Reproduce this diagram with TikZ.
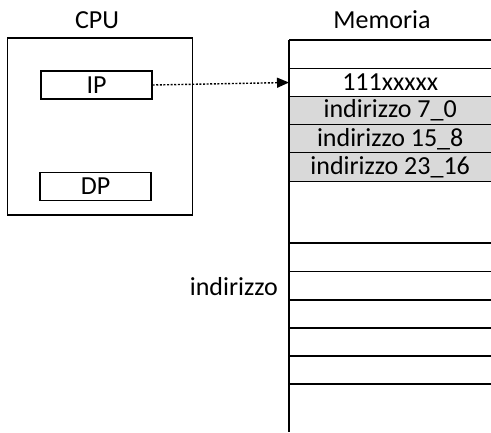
\documentclass[tikz,border=0pt]{standalone}
\usepackage{fontspec}
\setmainfont{Carlito}
\usetikzlibrary{arrows.meta}
\begin{document}
\begin{tikzpicture}[x=1pt,y=-1pt,
  every node/.style={font=\fontsize{26}{30}\selectfont, inner sep=0pt},
  box/.style={draw, line width=1.3pt},
  reg/.style={box, minimum width=111pt, minimum height=28pt},
  cell/.style={minimum width=202pt, minimum height=28.2pt},
  graycell/.style={cell, fill=black!15},
  rule/.style={line width=1.3pt},
  link/.style={line width=1.4pt, dash pattern=on 2pt off 1.6pt, -{Triangle[length=12pt,width=10pt]}}]
\useasboundingbox (0,0) rectangle (491,432);
\begin{scope}
\clip (0,0) rectangle (491,432);
% CPU
\node[box, minimum width=185pt, minimum height=177pt] (cpu) at (100,126.5) {};
\node (cpulbl) at (97,20) {CPU};
\node[reg] (ip) at (96.5,85) {IP};
\node[reg] (dp) at (95.5,186.5) {DP};
% Memory
\node (memlbl) at (382,20) {Memoria};
\node[cell, anchor=north west] (m0) at (289,40) {};
\node[cell, anchor=north west] (m1) at (289,68.2) {111xxxxx};
\node[graycell, anchor=north west] (m2) at (289,96.4) {indirizzo 7\_0};
\node[graycell, anchor=north west] (m3) at (289,124.6) {indirizzo 15\_8};
\node[graycell, anchor=north west] (m4) at (289,152.8) {indirizzo 23\_16};
\foreach \c in {m0,m1,m2,m3,m4}{
  \draw[rule] (\c.north west) -- (\c.north east);
}
\draw[rule] (m4.south west) -- (m4.south east);
\coordinate (mtop) at (289,40);
\coordinate (mbot) at (289,432);
\foreach \y in {243,271.5,300,328,356,384}{
  \draw[rule] (289,\y) -- (491,\y);
}
\draw[rule] (mtop) -- (mbot);
\node[anchor=east] (addr) at (278,287) {indirizzo};
% connector
\draw[link] (ip.east) -- (m1.west);
\end{scope}
\end{tikzpicture}
\end{document}
